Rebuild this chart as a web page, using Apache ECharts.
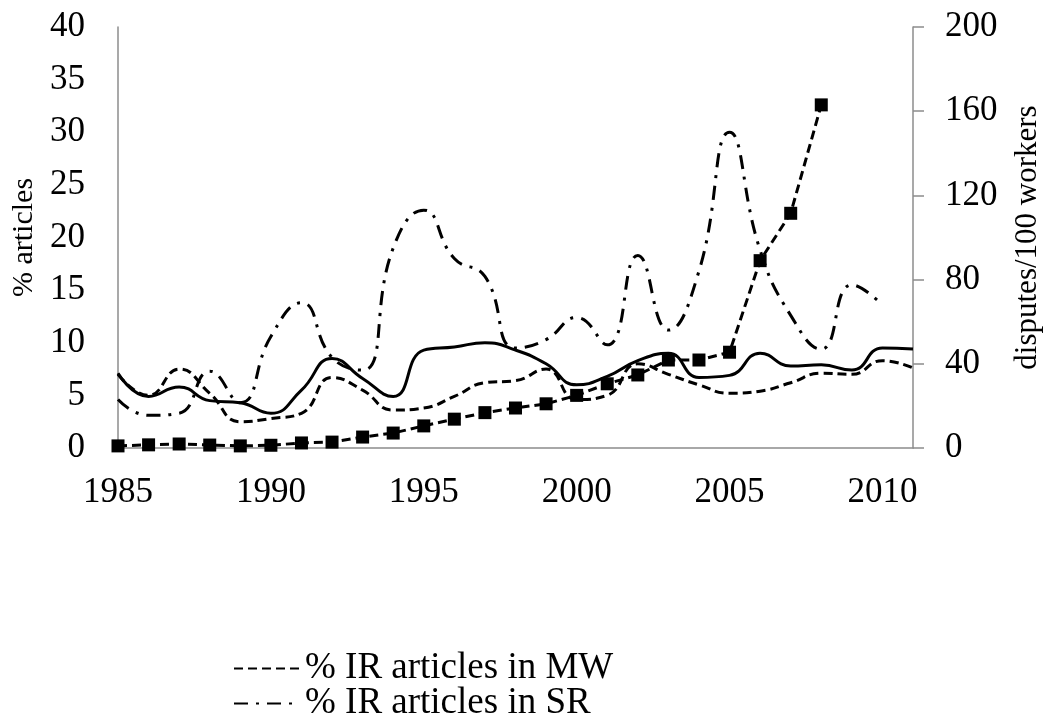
<!DOCTYPE html>
<html>
<head>
<meta charset="utf-8">
<script src="https://cdn.jsdelivr.net/npm/echarts@6/dist/echarts.min.js"></script>
<style>
  html, body { margin: 0; padding: 0; background: #fff; }
  #chart { width: 1044px; height: 715px; }
</style>
</head>
<body>
<div id="chart"></div>
<script>
// years on the category axis
const years = ['1985','1986','1987','1988','1989','1990','1991','1992','1993','1994',
  '1995','1996','1997','1998','1999','2000','2001','2002','2003','2004',
  '2005','2006','2007','2008','2009','2010','2011'];

// % articles (left axis)
const solidVals = [7.1, 4.9, 5.8, 4.5, 4.3, 3.3, 5.5, 8.5, 6.6, 4.9,
  9.3, 9.6, 10.0, 9.3, 8.0, 6.0, 6.8, 8.3, 9.0, 6.7,
  6.9, 9.0, 7.8, 7.9, 7.4, 9.5, 9.4];
const mwVals = [7.0, 5.0, 7.5, 5.2, 2.5, 2.8, 3.3, 6.7, 5.5, 3.6,
  3.8, 4.9, 6.2, 6.4, 7.5, 4.6, 5.0, 8.0, 7.0, 6.0,
  5.2, 5.4, 6.2, 7.1, 7.0, 8.3, 7.6];
const srVals = [4.6, 3.1, 3.3, 7.3, 4.3, 10.6, 13.8, 8.6, 7.4, 19.0,
  22.6, 18.0, 16.3, 9.5, 10.3, 12.4, 9.8, 18.3, 11.2, 16.8,
  30.0, 18.8, 12.6, 9.4, 15.5, 13.6, null];

// disputes/100 workers (right axis)
const disputeVals = [1.0, 1.5, 1.9, 1.4, 1.0, 1.3, 2.4, 2.8, 5.2, 7.1,
  10.5, 13.7, 16.8, 19.0, 21.0, 25.0, 30.5, 34.7, 41.8, 41.8,
  45.5, 89.0, 111.5, 163.0];

const serif = "'Liberation Serif', 'Times New Roman', serif";
const axisGray = '#8c8c8c';

// one legend per row so the two entries stack
function legendRow(name, top) {
  return {
    orient: 'vertical',
    left: 228,
    top: top,
    itemWidth: 66,
    itemHeight: 14,
    itemGap: 0,
    data: [name],
    itemStyle: { opacity: 0 },
    textStyle: { fontFamily: serif, fontSize: 37, color: '#000' }
  };
}

const chart = echarts.init(document.getElementById('chart'));
chart.setOption({
  backgroundColor: '#ffffff',
  animation: false,
  grid: { left: 118, right: 131, top: 27, bottom: 267, containLabel: false, outerBoundsMode: 'none' },
  legend: [
    legendRow('% IR articles in MW', 645),
    legendRow('% IR articles in SR', 680)
  ],
  xAxis: {
    type: 'category',
    data: years,
    boundaryGap: false,
    axisLine: { lineStyle: { color: axisGray, width: 1.5 } },
    axisTick: { show: false },
    axisLabel: { interval: 4, color: '#000', fontFamily: serif, fontSize: 35, margin: 27 },
    splitLine: { show: false }
  },
  yAxis: [
    {
      type: 'value', min: 0, max: 40, interval: 5,
      name: '% articles', nameLocation: 'middle', nameRotate: 90, nameGap: 79,
      nameTextStyle: { fontFamily: serif, fontSize: 30, color: '#000' },
      axisLine: { show: true, lineStyle: { color: axisGray, width: 1.5 } },
      axisTick: { show: false },
      axisLabel: { color: '#000', fontFamily: serif, fontSize: 35, margin: 33 },
      splitLine: { show: false }
    },
    {
      type: 'value', min: 0, max: 200, interval: 40, position: 'right',
      name: 'disputes/100 workers', nameLocation: 'middle', nameRotate: 90, nameGap: 99,
      nameTextStyle: { fontFamily: serif, fontSize: 31, color: '#000' },
      axisLine: { show: true, lineStyle: { color: axisGray, width: 1.5 } },
      axisTick: { show: true, length: 11, lineStyle: { color: axisGray, width: 1.5 } },
      axisLabel: { color: '#000', fontFamily: serif, fontSize: 35, margin: 32 },
      splitLine: { show: false }
    }
  ],
  series: [
    {
      name: '% IR articles', type: 'line', yAxisIndex: 0, data: solidVals,
      smooth: 0.5, symbol: 'none',
      lineStyle: { color: '#000', width: 3, type: 'solid' }
    },
    {
      name: '% IR articles in MW', type: 'line', yAxisIndex: 0, data: mwVals,
      smooth: 0.5, symbol: 'none', itemStyle: { color: '#000' },
      lineStyle: { color: '#000', width: 3, type: [9, 5] }
    },
    {
      name: '% IR articles in SR', type: 'line', yAxisIndex: 0, data: srVals,
      smooth: 0.5, symbol: 'none', itemStyle: { color: '#000' },
      lineStyle: { color: '#000', width: 3, type: [14, 8, 3, 8] }
    },
    {
      name: 'disputes/100 workers', type: 'line', yAxisIndex: 1, data: disputeVals,
      symbol: 'rect', symbolSize: 13, itemStyle: { color: '#000' },
      lineStyle: { color: '#000', width: 3, type: [9, 5] }
    }
  ]
});
</script>
</body>
</html>
